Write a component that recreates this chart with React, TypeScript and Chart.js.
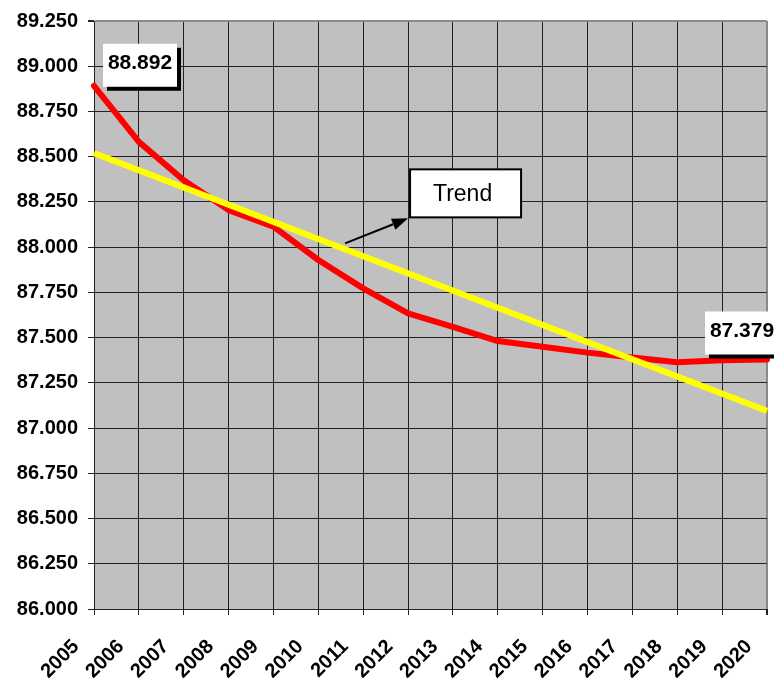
import { useEffect, useRef } from "react";
import { Chart, registerables } from "chart.js";

Chart.register(...registerables);

// Years on the category axis
const years = [
  "2005", "2006", "2007", "2008", "2009", "2010", "2011", "2012",
  "2013", "2014", "2015", "2016", "2017", "2018", "2019", "2020",
];

// Yearly values
const values = [
  88.892, 88.582, 88.37, 88.205, 88.113, 87.929, 87.772, 87.634,
  87.56, 87.481, 87.45, 87.417, 87.39, 87.364, 87.375, 87.379,
];

// Straight trend line: first and last year only
const trendValues: (number | null)[] = [
  88.52, null, null, null, null, null, null, null,
  null, null, null, null, null, null, null, 87.095,
];

// Value axis range
const yMin = 86;
const yMax = 89.25;
const yStep = 0.25;

const trendText = "Trend";

const FONT = "'Liberation Sans', Arial, sans-serif";

// Grey plot background
const plotBackground = {
  id: "plotBackground",
  beforeDraw(chart: any) {
    const { ctx, chartArea } = chart;
    ctx.save();
    ctx.fillStyle = "#C0C0C0";
    ctx.fillRect(chartArea.left, chartArea.top, chartArea.right - chartArea.left, chartArea.bottom - chartArea.top);
    ctx.restore();
  },
};

// Callout boxes for first/last value and the "Trend" note with its arrow
const callouts = {
  id: "callouts",
  afterDatasetsDraw(chart: any) {
    const { ctx, scales } = chart;
    const x = scales.x;
    const y = scales.y;

    const valueBox = (index: number, dx: number, dy: number) => {
      const px = x.getPixelForValue(index);
      const py = y.getPixelForValue(values[index]);
      const w = 74;
      const h = 43;
      const left = px + dx;
      const top = py + dy;
      ctx.save();
      ctx.fillStyle = "#000";
      ctx.fillRect(left + 4, top + 4, w, h);
      ctx.fillStyle = "#fff";
      ctx.fillRect(left, top, w, h);
      ctx.fillStyle = "#000";
      ctx.font = `bold 21px ${FONT}`;
      ctx.textAlign = "center";
      ctx.textBaseline = "middle";
      ctx.fillText(values[index].toFixed(3), left + w / 2, top + h / 2 - 2);
      ctx.restore();
    };

    valueBox(0, 9, -42);
    valueBox(values.length - 1, -62, -48);

    // Trend note
    const bx = x.getPixelForValue(7) + 2;
    const by = y.getPixelForValue(88.43);
    const bw = 111;
    const bh = 48;
    ctx.save();
    ctx.fillStyle = "#fff";
    ctx.fillRect(bx, by, bw, bh);
    ctx.strokeStyle = "#000";
    ctx.lineWidth = 2;
    ctx.strokeRect(bx, by, bw, bh);
    ctx.fillStyle = "#000";
    ctx.font = `23px ${FONT}`;
    ctx.textAlign = "center";
    ctx.textBaseline = "middle";
    ctx.fillText(trendText, bx + bw / 2 - 3, by + bh / 2 + 1);

    // Arrow pointing at the note
    const tipX = bx - 2;
    const tipY = by + bh + 1;
    const startX = bx - 65;
    const startY = by + bh + 26;
    const ang = Math.atan2(tipY - startY, tipX - startX);
    const headLen = 16;
    const headHalf = 6;
    const baseX = tipX - headLen * Math.cos(ang);
    const baseY = tipY - headLen * Math.sin(ang);
    ctx.beginPath();
    ctx.moveTo(startX, startY);
    ctx.lineTo(baseX, baseY);
    ctx.lineWidth = 2;
    ctx.stroke();
    ctx.beginPath();
    ctx.moveTo(tipX, tipY);
    ctx.lineTo(baseX + headHalf * Math.sin(ang), baseY - headHalf * Math.cos(ang));
    ctx.lineTo(baseX - headHalf * Math.sin(ang), baseY + headHalf * Math.cos(ang));
    ctx.closePath();
    ctx.fill();
    ctx.restore();
  },
};

export default function App() {
  const canvasRef = useRef<HTMLCanvasElement | null>(null);

  useEffect(() => {
    if (!canvasRef.current) return;
    const chart = new Chart(canvasRef.current, {
      type: "line",
      data: {
        labels: years,
        datasets: [
          {
            label: "Trend",
            data: trendValues,
            borderColor: "#FFFF00",
            borderWidth: 6,
            pointRadius: 0,
            spanGaps: true,
            tension: 0,
          },
          {
            label: "Wert",
            data: values,
            borderColor: "#FF0000",
            borderWidth: 6,
            pointRadius: 0,
            tension: 0,
            borderJoinStyle: "round",
            borderCapStyle: "round",
          },
        ],
      },
      options: {
        responsive: false,
        animation: false,
        devicePixelRatio: 1,
        layout: { padding: { top: 21, right: 7, left: 0, bottom: 0 } },
        plugins: {
          legend: { display: false },
          tooltip: { enabled: false },
        },
        scales: {
          x: {
            type: "category",
            offset: false,
            grid: {
              color: (c: any) => (c.index === years.length - 1 ? "#8a8a8a" : "#222"),
              lineWidth: (c: any) => (c.index === years.length - 1 ? 2 : 1),
              tickColor: "#222",
              tickLength: 6,
            },
            border: { display: true, color: "#222", width: 1 },
            ticks: {
              autoSkip: false,
              maxRotation: 45,
              minRotation: 45,
              padding: 20,
              labelOffset: -18,
              color: "#000",
              font: { family: FONT, size: 20, weight: "bold" },
            },
            afterFit: (s: any) => {
              s.height = 69;
              s.paddingLeft = 0;
              s.paddingRight = 0;
            },
          },
          y: {
            min: yMin,
            max: yMax,
            grid: {
              color: (c: any) => (c.tick && c.tick.value === yMax ? "#8a8a8a" : "#222"),
              lineWidth: (c: any) => (c.tick && c.tick.value === yMax ? 2 : 1),
              tickColor: "#222",
              tickLength: 6,
            },
            border: { display: true, color: "#222", width: 1 },
            ticks: {
              stepSize: yStep,
              padding: 10,
              color: "#000",
              font: { family: FONT, size: 20, weight: "bold" },
              callback: (v: any) => Number(v).toFixed(3),
            },
            afterFit: (s: any) => {
              s.width = 94;
              s.paddingTop = 0;
              s.paddingBottom = 0;
            },
          },
        },
      },
      plugins: [plotBackground, callouts],
    });
    return () => chart.destroy();
  }, []);

  return (
    <div style={{ position: "fixed", left: 0, top: 0, width: 774, height: 678, background: "#fff" }}>
      <canvas ref={canvasRef} width={774} height={678} style={{ display: "block" }} />
    </div>
  );
}
